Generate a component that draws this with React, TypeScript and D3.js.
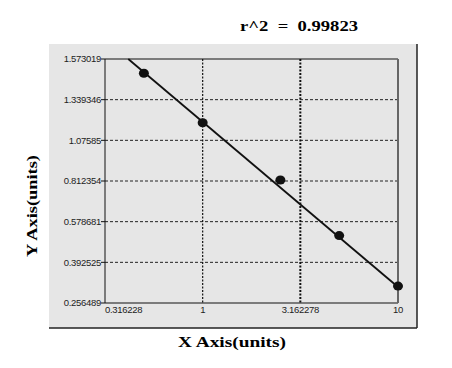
import React from "react";
import * as d3 from "d3";

const xTicks = [0.316228, 1, 3.162278, 10];
const xTickLabels = ["0.316228", "1", "3.162278", "10"];
const yTicks = [0.256489, 0.392525, 0.578681, 0.812354, 1.07585, 1.339346, 1.573019];
const yTickLabels = ["0.256489", "0.392525", "0.578681", "0.812354", "1.07585", "1.339346", "1.573019"];
const pointX = [0.5, 1, 2.5, 5, 10];
const pointY = [1.491, 1.19, 0.819, 0.515, 0.313];
const fitX = [0.416, 10];
const fitY = [1.573019, 0.31];
const title = "r^2  =  0.99823";

export default function App() {
  const W = 452, H = 368;
  const left = 105, right = 398, top = 59, bottom = 303;
  const x = d3.scaleLog().domain([0.316228, 10]).range([left, right]);
  const step = (bottom - top) / (yTicks.length - 1);
  const y = d3.scaleLinear().domain(yTicks).range(yTicks.map((_, i) => bottom - i * step));
  const line = d3.line<number>().x((d, i) => x(fitX[i])).y((d, i) => y(fitY[i]));
  const tickFont = "Arial, 'Liberation Sans', sans-serif";
  const serif = "'Liberation Serif', 'Times New Roman', serif";
  return (
    <svg width={W} height={H} style={{ position: "absolute", left: 0, top: 0, background: "#fff" }}>
      <rect x={49} y={44} width={368} height={284} fill="#e6e6e6" />
      <line x1={417} y1={44} x2={417} y2={328} stroke="#222" strokeWidth={1.5} />
      <line x1={49} y1={328} x2={417} y2={328} stroke="#222" strokeWidth={1.5} />
      <text x={240} y={31} textLength={118} lengthAdjust="spacingAndGlyphs" fontFamily={serif} fontWeight="bold" fontSize={15} style={{ whiteSpace: "pre" }}>
        {title}
      </text>
      {/* horizontal grid */}
      {yTicks.slice(1, -1).map((t, i) => (
        <line key={"h" + i} x1={left} x2={right} y1={y(t)} y2={y(t)} stroke="#222" strokeWidth={1} strokeDasharray="3,2" />
      ))}
      {/* vertical grid */}
      {xTicks.slice(1, -1).map((t, i) => (
        <line key={"v" + i} x1={x(t)} x2={x(t)} y1={top} y2={bottom} stroke="#111" strokeWidth={i === 1 ? 2 : 1.2} strokeDasharray="2,1.5" />
      ))}
      {/* frame */}
      <line x1={left} x2={right} y1={top} y2={top} stroke="#111" strokeWidth={1} />
      <line x1={left} x2={left} y1={top} y2={bottom} stroke="#111" strokeWidth={1} />
      <line x1={left} x2={right} y1={bottom} y2={bottom} stroke="#111" strokeWidth={1} />
      <line x1={right} x2={right} y1={top} y2={bottom} stroke="#666" strokeWidth={2} />
      {/* y ticks */}
      {yTicks.map((t, i) => (
        <g key={"yt" + i}>
          <line x1={left - 4} x2={left} y1={y(t)} y2={y(t)} stroke="#111" />
          <text x={left - 4} y={y(t)} dy="0.35em" textAnchor="end" fontFamily={tickFont} fontSize={9.5} fill="#222" letterSpacing={-0.3}>
            {yTickLabels[i]}
          </text>
        </g>
      ))}
      {/* x ticks */}
      {xTicks.map((t, i) => (
        <text key={"xt" + i} x={x(t)} y={bottom + 10} textAnchor={i === 0 ? "start" : "middle"} fontFamily={tickFont} fontSize={9.5} fill="#222" letterSpacing={-0.3}>
          {xTickLabels[i]}
        </text>
      ))}
      {/* fit line */}
      <path d={line(fitX) || ""} stroke="#111" strokeWidth={1.8} fill="none" />
      {pointX.map((px, i) => (
        <ellipse key={"p" + i} cx={x(px)} cy={y(pointY[i])} rx={5} ry={4.5} fill="#111" />
      ))}
      <text x={178} y={347} textLength={108} lengthAdjust="spacingAndGlyphs" fontFamily={serif} fontWeight="bold" fontSize={15}>
        X Axis(units)
      </text>
      <text transform="translate(37,257) rotate(-90)" textLength={102} lengthAdjust="spacingAndGlyphs" fontFamily={serif} fontWeight="bold" fontSize={15}>
        Y Axis(units)
      </text>
    </svg>
  );
}
